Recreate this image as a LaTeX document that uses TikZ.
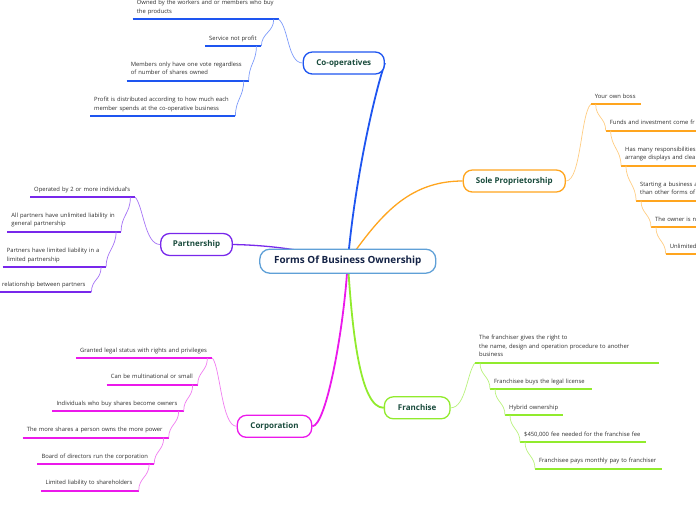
\documentclass[tikz,border=0pt]{standalone}
\usepackage{fontspec}
\setmainfont{Open Sans}
\usetikzlibrary{backgrounds}
\definecolor{rootline}{RGB}{95,160,215}
\definecolor{roottext}{RGB}{20,35,70}
\definecolor{topictext}{RGB}{25,75,60}
\definecolor{leaftext}{RGB}{45,45,45}
\definecolor{coopblue}{RGB}{30,85,240}
\definecolor{coopsoft}{RGB}{125,155,250}
\definecolor{soleorange}{RGB}{255,165,30}
\definecolor{solesoft}{RGB}{255,205,130}
\definecolor{partpurple}{RGB}{120,40,235}
\definecolor{partsoft}{RGB}{165,115,245}
\definecolor{corpmagenta}{RGB}{235,25,235}
\definecolor{corpsoft}{RGB}{240,125,240}
\definecolor{franlime}{RGB}{145,235,45}
\definecolor{fransoft}{RGB}{185,242,125}
\tikzset{
  root/.style={
    rectangle,
    rounded corners=10pt,
    draw=rootline,
    line width=1.3pt,
    fill=white,
    minimum width=176pt,
    minimum height=24pt,
    text=roottext,
    font=\fontsize{9.9}{11}\selectfont\bfseries
  },
  topic/.style={
    rectangle,
    rounded corners=9pt,
    line width=1.3pt,
    fill=white,
    minimum height=22pt,
    inner xsep=6pt,
    text=topictext,
    font=\fontsize{8}{10}\selectfont\bfseries
  },
  leaf/.style={
    anchor=south west,
    align=left,
    inner xsep=4pt,
    inner ysep=3pt,
    execute at end node={\strut},
    text=leaftext,
    font=\fontsize{5.85}{8.8}\selectfont
  },
  branch/.style={line width=1.8pt},
  thinbranch/.style={line width=1.3pt},
  underline/.style={line width=1.8pt},
  twig/.style={line width=0.7pt}
}

\begin{document}
\begin{tikzpicture}[x=1pt, y=-1pt]
  \useasboundingbox (0,0) rectangle (696,520);
  \clip (0,0) rectangle (696,520);

  \node[root] (root) at (347.8,261.2) {Forms Of Business Ownership};
  \node[topic, draw=coopblue, minimum width=81pt] (coop) at (343.8,63) {Co-operatives};
  \node[topic, draw=soleorange, minimum width=102pt] (sole) at (514.3,181) {Sole Proprietorship};
  \node[topic, draw=partpurple, minimum width=71.6pt] (partner) at (196.5,244.5) {Partnership};
  \node[topic, draw=corpmagenta, minimum width=74.4pt] (corp) at (274.5,426.3) {Corporation};
  \node[topic, draw=franlime, minimum width=65.7pt] (fran) at (417.2,407.8) {Franchise};

  % co-operatives
  \node[leaf, text width=137.6pt] (c1) at (132.7,19.3) {Owned by the workers and or members who buy\\the products};
  \node[leaf, text width=48pt] (c2) at (205,46) {Service not profit};
  \node[leaf, text width=113.6pt] (c3) at (126.7,80.7) {Members only have one vote regardless\\of number of shares owned};
  \node[leaf, text width=137pt] (c4) at (90,116) {Profit is distributed according to how much each\\member spends at the co-operative business};

  % sole proprietorship
  \node[leaf, text width=42pt] (s1) at (590.7,104.3) {Your own boss};
  \node[leaf, text width=192pt] (s2) at (605.7,130.7) {Funds and investment come fr};
  \node[leaf, text width=192pt] (s3) at (621,165.7) {Has many responsibilities\\arrange displays and clea};
  \node[leaf, text width=192pt] (s4) at (636,200.7) {Starting a business a\\than other forms of};
  \node[leaf, text width=192pt] (s5) at (651,227.3) {The owner is n};
  \node[leaf, text width=192pt] (s6) at (665.7,254) {Unlimited};

  % partnership
  \node[leaf, text width=97pt] (p1) at (30,197.3) {Operated by 2 or more individual`s};
  \node[leaf, text width=105.4pt] (p2) at (7.3,231.7) {All partners have unlimited liability in\\general partnership};
  \node[leaf, text width=95pt] (p3) at (2.7,267) {Partners have limited liability in a\\limited partnership};
  \node[leaf, text width=85pt] (p4) at (-2,292.3) {relationship between partners};

  % corporation
  \node[leaf, text width=128pt] (r1) at (76,358) {Granted legal status with rights and privileges};
  \node[leaf, text width=82.6pt] (r2) at (106.7,384.7) {Can be multinational or small};
  \node[leaf, text width=123pt] (r3) at (52.3,411) {Individuals who buy shares become owners};
  \node[leaf, text width=137.6pt] (r4) at (22.7,437.7) {The more shares a person owns the more power};
  \node[leaf, text width=108.5pt] (r5) at (37.3,464) {Board of directors run the corporation};
  \node[leaf, text width=89pt] (r6) at (41.3,490.7) {Limited liability to shareholders};

  % franchise
  \node[leaf, text width=175.7pt] (f1) at (475,362.7) {The franchiser gives the right to\\the name, design and operation procedure to another\\business};
  \node[leaf, text width=93.5pt] (f2) at (490,389) {Franchisee buys the legal license};
  \node[leaf, text width=49.7pt] (f3) at (505,415.3) {Hybrid ownership};
  \node[leaf, text width=118pt] (f4) at (520,442) {\$450,000 fee needed for the franchise fee};
  \node[leaf, text width=118.7pt] (f5) at (535,468.7) {Franchisee pays monthly pay to franchiser};

  \begin{scope}[on background layer]
    \draw[branch, coopblue] (root.center) .. controls (355,180) and (374,95) .. (coop.east);
    \draw[thinbranch, soleorange] (root.center) .. controls (380,216) and (408,181) .. (sole.west);
    \draw[thinbranch, partpurple] (root.center) .. controls (300,248) and (260,245) .. (partner.east);
    \draw[branch, corpmagenta] (root.center) .. controls (344,330) and (326,426) .. (corp.east);
    \draw[branch, franlime] (root.center) .. controls (352,330) and (360,408) .. (fran.west);
  \end{scope}

  % underlines
  \foreach \n in {c1,c2,c3,c4}
    \draw[underline, coopblue] (\n.south west) -- (\n.south east);
  \foreach \n in {s1,s2,s3,s4,s5,s6}
    \draw[underline, soleorange] (\n.south west) -- (\n.south east);
  \foreach \n in {p1,p2,p3,p4}
    \draw[underline, partpurple] (\n.south west) -- (\n.south east);
  \foreach \n in {r1,r2,r3,r4,r5,r6}
    \draw[underline, corpmagenta] (\n.south west) -- (\n.south east);
  \foreach \n in {f1,f2,f3,f4,f5}
    \draw[underline, franlime] (\n.south west) -- (\n.south east);

  % twigs
  \draw[twig, coopsoft] (coop.west) .. controls +(-15,0) and +(10,8) .. (c1.south east);
  \draw[twig, coopsoft] ([xshift=-5pt]c1.south east) .. controls +(0,13) and +(0,-13) .. (c2.south east);
  \draw[twig, coopsoft] ([xshift=-5pt]c2.south east) .. controls +(0,16) and +(0,-16) .. (c3.south east);
  \draw[twig, coopsoft] ([xshift=-5pt]c3.south east) .. controls +(0,16) and +(0,-16) .. (c4.south east);

  \draw[twig, solesoft] (sole.east) .. controls +(15,0) and +(-10,10) .. (s1.south west);
  \draw[twig, solesoft] ([xshift=5pt]s1.south west) .. controls +(0,13) and +(0,-13) .. (s2.south west);
  \draw[twig, solesoft] ([xshift=5pt]s2.south west) .. controls +(0,16) and +(0,-16) .. (s3.south west);
  \draw[twig, solesoft] ([xshift=5pt]s3.south west) .. controls +(0,16) and +(0,-16) .. (s4.south west);
  \draw[twig, solesoft] ([xshift=5pt]s4.south west) .. controls +(0,13) and +(0,-13) .. (s5.south west);
  \draw[twig, solesoft] ([xshift=5pt]s5.south west) .. controls +(0,13) and +(0,-13) .. (s6.south west);

  \draw[twig, partsoft] (partner.west) .. controls +(-15,0) and +(8,10) .. (p1.south east);
  \draw[twig, partsoft] ([xshift=-5pt]p1.south east) .. controls +(0,16) and +(0,-16) .. (p2.south east);
  \draw[twig, partsoft] ([xshift=-5pt]p2.south east) .. controls +(0,16) and +(0,-16) .. (p3.south east);
  \draw[twig, partsoft] ([xshift=-5pt]p3.south east) .. controls +(0,13) and +(0,-13) .. (p4.south east);

  \draw[twig, corpsoft] (corp.west) .. controls +(-15,0) and +(8,10) .. (r1.south east);
  \foreach \a/\b in {r1/r2,r2/r3,r3/r4,r4/r5,r5/r6}
    \draw[twig, corpsoft] ([xshift=-5pt]\a.south east) .. controls +(0,13) and +(0,-13) .. (\b.south east);

  \draw[twig, fransoft] (fran.east) .. controls +(15,0) and +(-8,10) .. (f1.south west);
  \foreach \a/\b in {f1/f2,f2/f3,f3/f4,f4/f5}
    \draw[twig, fransoft] ([xshift=5pt]\a.south west) .. controls +(0,13) and +(0,-13) .. (\b.south west);
\end{tikzpicture}
\end{document}
